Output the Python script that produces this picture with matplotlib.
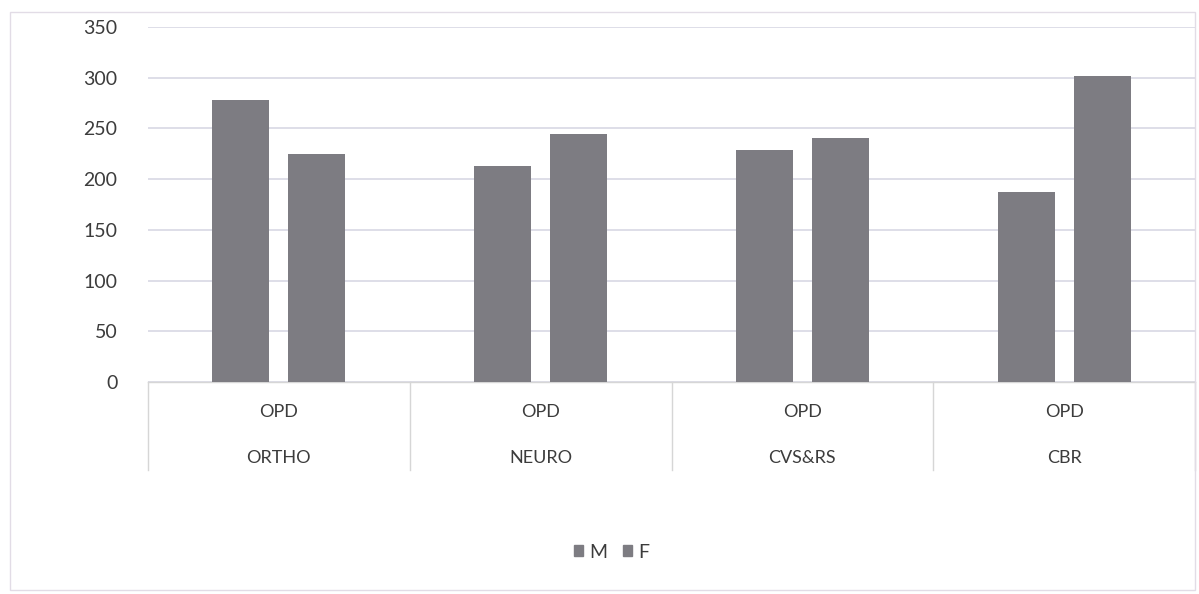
import matplotlib.pyplot as plt
from matplotlib.patches import Rectangle, Patch
import numpy as np

plt.rcParams['font.family'] = ['Lato', 'DejaVu Sans']

categories = ['ORTHO', 'NEURO', 'CVS&RS', 'CBR']
sub_label = 'OPD'
male = [278, 213, 229, 187]
female = [225, 245, 241, 302]
yticks = [0, 50, 100, 150, 200, 250, 300, 350]

bar_col = '#7d7c82'
grid_col = '#d8d8e4'
txt_col = '#3c3c3c'

fig = plt.figure(figsize=(11.99, 5.94), dpi=100)
ax = fig.add_axes([148/1199, 1 - 382/594, (1195-148)/1199, (382-27)/594])

x = np.arange(len(categories))
w = 0.218
ax.bar(x - 0.145, male, width=w, color=bar_col, zorder=3, label='M')
ax.bar(x + 0.145, female, width=w, color=bar_col, zorder=3, label='F')

ax.set_xlim(-0.5, len(categories) - 0.5)
ax.set_ylim(0, 350)
ax.set_yticks(yticks)
ax.set_yticklabels([str(v) for v in yticks], fontsize=14, color=txt_col)
ax.tick_params(axis='y', length=0, pad=22)
ax.set_xticks([])
ax.grid(axis='y', color=grid_col, linewidth=1.2, zorder=0)
for s in ax.spines.values():
    s.set_visible(False)

# category axis box
box_h = (470 - 382) / (382 - 27)
ax.plot([-0.5, len(categories) - 0.5], [0, 0], transform=ax.get_xaxis_transform(),
        color='#d6d6d6', lw=1, clip_on=False)
for b in np.arange(-0.5, len(categories), 1.0):
    ax.plot([b, b], [0, -box_h], transform=ax.get_xaxis_transform(),
            color='#d6d6d6', lw=1, clip_on=False)
for i, c in enumerate(categories):
    ax.text(i, -(412 - 382) / 355, sub_label, transform=ax.get_xaxis_transform(),
            ha='center', va='center', fontsize=13, color=txt_col)
    ax.text(i, -(458 - 382) / 355, c, transform=ax.get_xaxis_transform(),
            ha='center', va='center', fontsize=13, color=txt_col)

handles = [Patch(color=bar_col, label='M'), Patch(color=bar_col, label='F')]
fig.legend(handles=handles, loc='center', bbox_to_anchor=(0.51, 1 - 552/594), ncol=2,
           frameon=False, fontsize=14, handlelength=0.5, handleheight=0.5,
           handletextpad=0.3, columnspacing=0.8, labelcolor=txt_col)

fig.patches.append(Rectangle((10/1199, 4/594), 1185/1199, 578/594, transform=fig.transFigure,
                             fill=False, edgecolor='#e2dce6', lw=1))

fig.savefig('out.png', dpi=100)
